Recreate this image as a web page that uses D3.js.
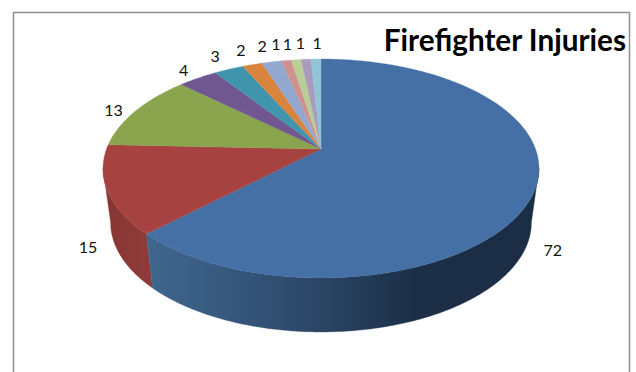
<!DOCTYPE html>
<html><head><meta charset="utf-8">
<script src="https://cdn.jsdelivr.net/npm/d3@7"></script>
<style>html,body{margin:0;padding:0;background:#fff}svg{display:block}</style></head>
<body><div id="c"></div>
<script>
const categories = ["a","b","c","d","e","f","g","h","i","j","k"];
const values = [72,15,13,4,3,2,2,1,1,1,1];
const colors = ["#4570a5","#a64340","#8aa54d","#71578f","#4095ad","#d9843d","#92a8cf","#cf9190","#b9cd97","#a99bbd","#90c4d6"];
const titleText = "Firefighter Injuries";

const W=636,H=372;
const svg=d3.select("#c").append("svg").attr("width",W).attr("height",H);

// perspective tilted disc
const cx=321, cy=149, R=214.5, B=106, K=0.178, depth=54, shrink=0.035;
function project(t,r=1,z=0){
  const px=r*Math.sin(t), py=-r*Math.cos(t), w=1-K*py, s=1-shrink*z;
  return [cx+s*R*px/w, cy+depth*z+B*py/w];
}
const color=d3.scaleOrdinal(categories,colors);
const pie=d3.pie().sort(null).value(d=>d.v)(categories.map((c,i)=>({c,v:values[i]})));
const line=d3.line();
const samples=(a,b)=>{const n=Math.max(2,Math.ceil((b-a)/0.01));return d3.range(n+1).map(i=>a+(b-a)*i/n);};

const defs=svg.append("defs");
const g1=defs.append("linearGradient").attr("id","wallBlue").attr("gradientUnits","userSpaceOnUse").attr("x1",146).attr("x2",539).attr("y1",0).attr("y2",0);
[[0,"#40678f"],[0.25,"#345579"],[0.45,"#2a4465"],[0.68,"#1c2f47"],[1,"#1b2d45"]].forEach(s=>g1.append("stop").attr("offset",s[0]).attr("stop-color",s[1]));
const g2=defs.append("linearGradient").attr("id","wallRed").attr("gradientUnits","userSpaceOnUse").attr("x1",103).attr("x2",152).attr("y1",0).attr("y2",0);
[[0,"#873634"],[1,"#903b39"]].forEach(s=>g2.append("stop").attr("offset",s[0]).attr("stop-color",s[1]));

// frame
svg.append("path").attr("d",line([[13.5,H],[13.5,12.5],[629.5,12.5],[629.5,H]]))
  .attr("fill","none").attr("stroke","#8f8f8f").attr("stroke-width",1.5);

// walls: silhouette of the disc lies where the near side reaches y=K
const tanR=Math.PI-Math.acos(K), tanL=Math.PI+Math.acos(K);
const wall=(a,b,fill)=>{
  const ts=samples(a,b);
  svg.append("path").attr("d",line(ts.map(t=>project(t)).concat(ts.slice().reverse().map(t=>project(t,1,1))))+"Z")
    .attr("fill",fill).attr("stroke",fill).attr("stroke-width",0.4);
};
wall(pie[0].endAngle,tanL,"url(#wallRed)");
wall(tanR,pie[0].endAngle,"url(#wallBlue)");

// top face
svg.append("g").selectAll("path").data(pie).join("path")
  .attr("d",d=>line([[cx,cy]].concat(samples(d.startAngle,d.endAngle).map(t=>project(t))))+"Z")
  .attr("fill",d=>color(d.data.c)).attr("stroke",d=>color(d.data.c)).attr("stroke-width",0.3);

// value labels: placed outside the rim, fanned out where they crowd at the back
const liftBack=d3.scaleLinear().domain([0.39,0.75,0.85,0.96]).range([3,0,-4,-7]).clamp(true);
const spread=d3.scaleLinear().domain([0.75,0.96,0.9966,0.9996]).range([1,1.06,1.25,0.7]).clamp(true);
svg.append("g").selectAll("text").data(pie).join("text")
  .attr("transform",d=>{
    const t=(d.startAngle+d.endAngle)/2, c=Math.cos(t);
    const near=c<0;
    const p=project(t,near?1.12:1.13,near?1:0);
    const x=near?p[0]:cx+(p[0]-cx)*spread(c);
    const y=near?p[1]-3:p[1]+liftBack(c);
    return `translate(${x},${y})`;
  })
  .attr("text-anchor","middle").attr("dominant-baseline","central")
  .attr("font-family","Lato, 'Open Sans', sans-serif").attr("font-size",16).attr("fill","#111")
  .text(d=>d.data.v);

svg.append("text").text(titleText).attr("x",626).attr("y",51).attr("text-anchor","end")
  .attr("font-family","Lato, 'Open Sans', sans-serif").attr("font-weight",700).attr("font-size",29.7).attr("fill","#000");
</script></body></html>
